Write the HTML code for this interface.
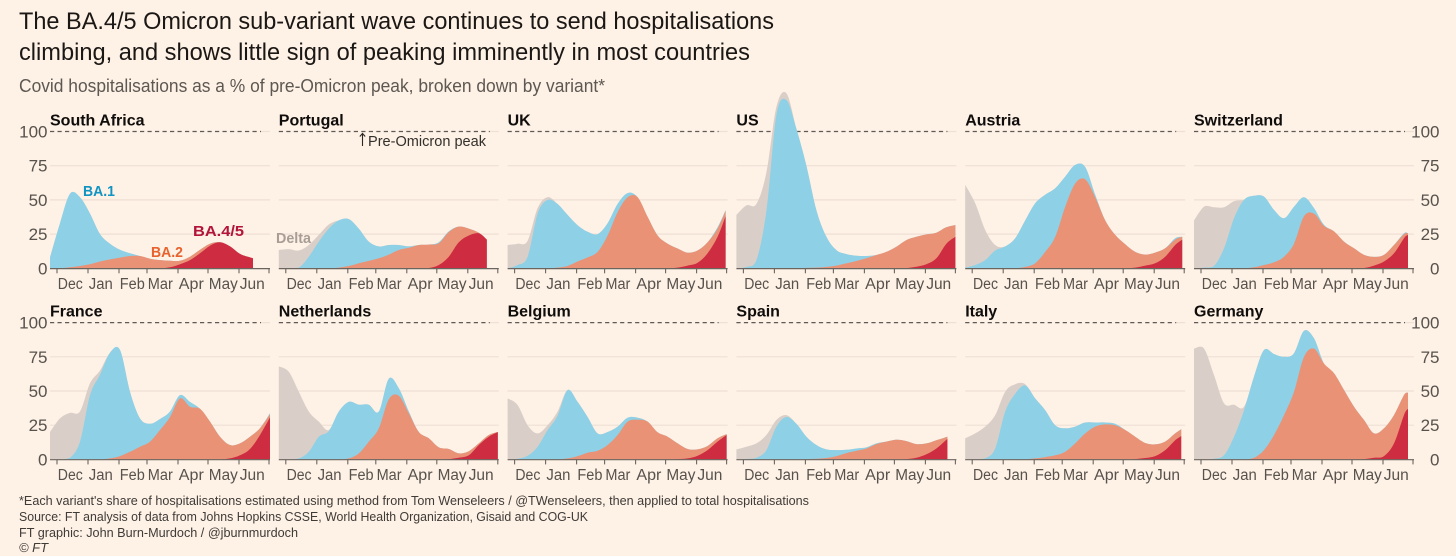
<!DOCTYPE html>
<html lang="en">
<head>
<meta charset="utf-8">
<title>BA.4/5 Omicron hospitalisations</title>
<style>
html,body{margin:0;padding:0;background:#fef1e6;}
svg{display:block;font-family:"Liberation Sans",sans-serif;}
</style>
</head>
<body>
<svg id="chart" xmlns="http://www.w3.org/2000/svg" width="1456" height="556" viewBox="0 0 1456 556">
  <rect x="0" y="0" width="1456" height="556" fill="#fef1e6"/>
  <text x="19" y="29" font-size="24" fill="#1a1714" textLength="755" lengthAdjust="spacingAndGlyphs">The BA.4/5 Omicron sub-variant wave continues to send hospitalisations</text>
  <text x="19" y="60" font-size="24" fill="#1a1714" textLength="731" lengthAdjust="spacingAndGlyphs">climbing, and shows little sign of peaking imminently in most countries</text>
  <text x="19" y="92" font-size="18" fill="#5d5852" textLength="586" lengthAdjust="spacingAndGlyphs">Covid hospitalisations as a % of pre-Omicron peak, broken down by variant*</text>
  <g id="panels"></g>
  <text x="19" y="505" font-size="13" fill="#3f3b37" textLength="790" lengthAdjust="spacingAndGlyphs">*Each variant's share of hospitalisations estimated using method from Tom Wenseleers / @TWenseleers, then applied to total hospitalisations</text>
  <text x="19" y="521" font-size="13" fill="#3f3b37" textLength="569" lengthAdjust="spacingAndGlyphs">Source: FT analysis of data from Johns Hopkins CSSE, World Health Organization, Gisaid and COG-UK</text>
  <text x="19" y="537" font-size="13" fill="#3f3b37" textLength="279" lengthAdjust="spacingAndGlyphs">FT graphic: John Burn-Murdoch / @jburnmurdoch</text>
  <text x="19" y="552" font-size="13" font-style="italic" fill="#3f3b37" textLength="29" lengthAdjust="spacingAndGlyphs">© FT</text>
</svg>
<script>
const yTicks = [0, 25, 50, 75, 100];
const monthLabels = ['Dec', 'Jan', 'Feb', 'Mar', 'Apr', 'May', 'Jun'];
const monthStartDays = [7, 38, 69, 97, 128, 158, 189, 219];

const southAfricaTotal = [8,33,54.5,52,40,25,18,13.5,11,9,7,6,5.5,5.5,8.5,13.5,18,19,16,10.5,8,7.3];
const southAfricaBa1 = [8,33,54.5,52,40,25,18,13.5,11,9,7,6,5.5,5.5,8.5,13.5,18,19,16,10.5,8,7.3];
const southAfricaBa2 = [0,0,0.7,1.7,3,5,6.5,7.8,9,9,7,6,5.5,5.5,8.5,13.5,18,19,16,10.5,8,7.3];
const southAfricaBa45 = [0,0,0,0,0,0,0,0,0,0,0,0,0.7,3,6,11,16.5,19,16,10.5,8,7.3];

const portugalTotal = [13.4,14,13,17,24.4,32,35,36,29,19.5,16,17,17,16,17,17.3,19,27,30.5,29,26,21];
const portugalBa1 = [0,0,0.5,8.5,19.5,29,35,36,29,19.5,16,17,17,16,17,17.3,19,27,30.5,29,26,21];
const portugalBa2 = [0,0,0,0,0,0,0.5,1.7,3.7,5.4,7.3,10,13.4,15,17,17.3,18.3,26.5,30.5,29,26,21];
const portugalBa45 = [0,0,0,0,0,0,0,0,0,0,0,0,0,0,0,0.2,2.4,8.5,19,24,25.6,21];

const ukTotal = [17,18,20,44,52,47,39,31.5,26.7,25,33,47,55,52,37.6,24,18,14.5,11.4,13,19,30,42.5];
const ukBa1 = [0,2.4,8.5,40,50,47,39,31.5,26.7,25,33,47,55,52,37.6,24,18,14.5,11.4,13,19,30,42.5];
const ukBa2 = [0,0,0,0,0,0.5,1.7,5,8,12,24,41,52,52,37.6,24,18,14.5,11.4,13,19,29,42];
const ukBa45 = [0,0,0,0,0,0,0,0,0,0,0,0,0,0,0,0,0,0.5,2,4,11,23,38];

const usTotal = [39,46,47,70,118,128,102,75,42.5,23,13.3,10.4,9.2,9,9.7,12,15.8,20.6,23,24.8,26,30,31.6];
const usBa1 = [0,1,6,42,112,123,102,75,42.5,23,13.3,10.4,9.2,9,9.7,12,15.8,20.6,23,24.8,26,30,31.6];
const usBa2 = [0,0,0,0,0,0,0,0.3,0.5,1,2,3.6,5.3,7.3,9.7,12,15.8,20.6,23,24.8,26,30,31.6];
const usBa45 = [0,0,0,0,0,0,0,0,0,0,0,0,0,0,0,0,0,0.2,1.2,3,7.3,18,23];

const austriaTotal = [61,47.5,28,17,16,22,35,47.5,53.7,58.5,67,75.6,74,53.7,35,24.4,17.6,12,10,11.5,14.6,22,23];
const austriaBa1 = [0.5,2.4,6,13,16,22,35,47.5,53.7,58.5,67,75.6,74,53.7,35,24.4,17.6,12,10,11.5,14.6,22,23];
const austriaBa2 = [0,0,0,0,0,0,1,3.7,12,23,45,62,65,52,35,24.4,17.6,12,10,11.5,14.6,21,23];
const austriaBa45 = [0,0,0,0,0,0,0,0,0,0,0,0,0,0,0,0,0,0.5,2,3.7,8.5,17,21];

const switzerlandTotal = [35,45,44.6,44.6,49,50,53,52.4,42.7,36.6,45,52,44,31.7,27,19.5,14.6,9.8,8.3,9.8,17,25.6,25.6];
const switzerlandBa1 = [0,0.5,1.7,14.6,36.6,50,53,52.4,42.7,36.6,45,52,44,31.7,27,19.5,14.6,9.8,8.3,9.8,17,25.6,25.6];
const switzerlandBa2 = [0,0,0,0,0,0,0.7,2.4,4.4,8.5,18,38,40,31,27,19.5,14.6,9.8,8.3,9.8,17,25,25.6];
const switzerlandBa45 = [0,0,0,0,0,0,0,0,0,0,0,0,0,0,0,0,0,0.2,2,5,11,22,24.4];

const franceTotal = [20,30,34,35,55.6,65,78,80,49.5,30,26,29.5,35,47,42,37,27.6,16.6,10.5,11.7,16.6,22.7,33.7];
const franceBa1 = [0,0,1.2,13,47,62,78,80,49.5,30,26,29.5,35,47,42,37,27.6,16.6,10.5,11.7,16.6,22.7,33.7];
const franceBa2 = [0,0,0,0,0,0,0.7,2.4,5.6,9.3,13,21.5,31,44.6,38.5,37,27.6,16.6,10.5,11.7,16.6,22.7,33];
const franceBa45 = [0,0,0,0,0,0,0,0,0,0,0,0,0,0,0,0,0,0,0.7,3,7.6,17.8,30.7];

const netherlandsTotal = [68,64,49.5,35,27.6,21.5,35,42,40,40,35,59,52,35,20,15.4,8.8,7.6,4.4,6,11.7,17.8,20];
const netherlandsBa1 = [0,0,0.7,5.6,16.6,20.7,35,42,40,40,35,59,52,35,20,15.4,8.8,7.6,4.4,6,11.7,17.8,20];
const netherlandsBa2 = [0,0,0,0,0,0,0,0.7,4.4,13,22.7,44,46.6,33.7,20,15.4,8.8,7.6,4.4,6,11.7,17.8,20];
const netherlandsBa45 = [0,0,0,0,0,0,0,0,0,0,0,0,0,0,0,0,0,0.2,1.2,3,10.5,16.6,20];

const belgiumTotal = [44.6,39.8,25,19,25,35,50.7,42,31,19,20,24,30.5,30.5,27.6,19.8,16.6,11.7,7.6,7.3,9.8,15.4,18.5];
const belgiumBa1 = [0,0.5,2.7,9.3,21.5,32,50.7,42,31,19,20,24,30.5,30.5,27.6,19.8,16.6,11.7,7.6,7.3,9.8,15.4,18.5];
const belgiumBa2 = [0,0,0,0,0,0,0.7,2.4,4.9,6.3,10.5,17.8,27.6,29,27.6,19.8,16.6,11.7,7.6,7.3,9.8,15.4,18.5];
const belgiumBa45 = [0,0,0,0,0,0,0,0,0,0,0,0,0,0,0,0,0,0.2,0.7,2.7,6.8,13,17.8];

const spainTotal = [7.3,9.3,11.7,17.8,28.8,32.4,26,16.6,10.5,7.3,6.8,7,8,8.8,11.7,13,14.4,13.4,11.2,11.7,14,16.6];
const spainBa1 = [0,0.3,1.2,6.8,24,31,26,16.6,10.5,7.3,6.8,7,8,8.8,11.7,13,14.4,13.4,11.2,11.7,14,16.6];
const spainBa2 = [0,0,0,0,0,0,0,0.2,0.5,1,2.4,4.6,6.3,8,11.2,13,14.4,13.4,11.2,11.7,14,16.6];
const spainBa45 = [0,0,0,0,0,0,0,0,0,0,0,0,0,0,0,0,0,0.2,1.2,3.7,8,15];

const italyTotal = [15.4,19,24,32.4,49.5,55,55,44.6,36,25,22.7,24,27,27,27,26,21.5,16.6,12,11,13,19,22];
const italyBa1 = [0,0,0.7,8,35,48,54,44.6,36,25,22.7,24,27,27,27,26,21.5,16.6,12,11,13,19,22];
const italyBa2 = [0,0,0,0,0,0,0.1,0.7,1.7,3,5.6,11.7,19,24,25.6,25,21.5,16.6,12,11,13,19,22];
const italyBa45 = [0,0,0,0,0,0,0,0,0,0,0,0,0,0,0,0,0,0.2,1,2.4,6.8,14,17];

const germanyTotal = [81,81,61.7,41,40,38.5,60.5,80,77,75,77.6,94,88.5,70,63,50.7,38.5,28.8,19,22.7,32.4,47,48.8];
const germanyBa1 = [0,0,0.5,3,16.6,36,60.5,80,77,75,77.6,94,88.5,70,63,50.7,38.5,28.8,19,22.7,32.4,47,48.8];
const germanyBa2 = [0,0,0,0,0,0,1.2,6.8,17.8,32.4,49.5,75,81,70,63,50.7,38.5,28.8,19,22.7,32.4,47,48.8];
const germanyBa45 = [0,0,0,0,0,0,0,0,0,0,0,0,0,0,0,0,0,0.2,1.2,2.4,11.7,32.4,37];

const countryNames = ['South Africa','Portugal','UK','US','Austria','Switzerland','France','Netherlands','Belgium','Spain','Italy','Germany'];
const lastDataDays = [203,208,218,219,217,214,220,219,219,211,216,214];
const totalSeries = [southAfricaTotal,portugalTotal,ukTotal,usTotal,austriaTotal,switzerlandTotal,franceTotal,netherlandsTotal,belgiumTotal,spainTotal,italyTotal,germanyTotal];
const ba1Series = [southAfricaBa1,portugalBa1,ukBa1,usBa1,austriaBa1,switzerlandBa1,franceBa1,netherlandsBa1,belgiumBa1,spainBa1,italyBa1,germanyBa1];
const ba2Series = [southAfricaBa2,portugalBa2,ukBa2,usBa2,austriaBa2,switzerlandBa2,franceBa2,netherlandsBa2,belgiumBa2,spainBa2,italyBa2,germanyBa2];
const ba45Series = [southAfricaBa45,portugalBa45,ukBa45,usBa45,austriaBa45,switzerlandBa45,franceBa45,netherlandsBa45,belgiumBa45,spainBa45,italyBa45,germanyBa45];

const NS = 'http://www.w3.org/2000/svg';
const root = document.getElementById('panels');
const PANEL_STEP = 228.8;
const ROW_BASE = [268.3, 459.4];
const PX_PER_UNIT = 1.368;
const PX_PER_DAY = 1.0;
const SAMPLE_DAYS = 10;

function xScale(col, day) { return 50 + col * PANEL_STEP + day * PX_PER_DAY; }
function yScale(row, value) { return ROW_BASE[row] - value * PX_PER_UNIT; }
function slug(s) { return s.toLowerCase().replace(/[^a-z0-9]+/g, '-'); }

function make(tag, parent, attrs, str) {
  const el = document.createElementNS(NS, tag);
  for (const k in attrs) el.setAttribute(k, attrs[k]);
  if (str !== undefined) el.textContent = str;
  parent.appendChild(el);
  return el;
}

function areaPath(values, col, row, lastDay) {
  const base = yScale(row, 0);
  const pts = values.map(function (v, i) {
    const day = i === values.length - 1 ? lastDay : i * SAMPLE_DAYS;
    return [xScale(col, day), yScale(row, v)];
  });
  let d = 'M' + pts[0][0].toFixed(1) + ' ' + base.toFixed(1) + 'L' + pts[0][0].toFixed(1) + ' ' + pts[0][1].toFixed(1);
  for (let i = 0; i < pts.length - 1; i++) {
    const p0 = pts[Math.max(i - 1, 0)], p1 = pts[i], p2 = pts[i + 1], p3 = pts[Math.min(i + 2, pts.length - 1)];
    const c1x = p1[0] + (p2[0] - p0[0]) / 6, c2x = p2[0] - (p3[0] - p1[0]) / 6;
    const c1y = Math.min(base, p1[1] + (p2[1] - p0[1]) / 6), c2y = Math.min(base, p2[1] - (p3[1] - p1[1]) / 6);
    d += 'C' + c1x.toFixed(1) + ' ' + c1y.toFixed(1) + ' ' + c2x.toFixed(1) + ' ' + c2y.toFixed(1) + ' ' + p2[0].toFixed(1) + ' ' + p2[1].toFixed(1);
  }
  d += 'L' + xScale(col, lastDay).toFixed(1) + ' ' + base.toFixed(1) + 'Z';
  return d;
}

countryNames.forEach(function (name, idx) {
  const col = idx % 6;
  const row = Math.floor(idx / 6);
  const key = slug(name);
  const g = make('g', root, {});
  
  

  yTicks.forEach(function (t) {
    if (t === 0 || t === 100) return;
    const gl = make('line', g, { x1: xScale(col, 0), x2: xScale(col, 220), y1: yScale(row, t), y2: yScale(row, t), stroke: '#eee0d4', 'stroke-width': 1.2 });
    
    
  });

  const pale = make('line', g, { x1: xScale(col, 210), x2: xScale(col, 220), y1: yScale(row, 100), y2: yScale(row, 100), stroke: '#eee0d4', 'stroke-width': 1.2 });
  
  

  const peak = make('line', g, { x1: xScale(col, 0), x2: xScale(col, 211), y1: yScale(row, 100), y2: yScale(row, 100), stroke: '#5f5a54', 'stroke-width': 1.2, 'stroke-dasharray': '4.2 3.3' });
  
  

  const layers = [
    [totalSeries[idx], '#d9cfc8', 'delta-area'],
    [ba1Series[idx], '#8ed0e6', 'ba1-area'],
    [ba2Series[idx], '#ea9276', 'ba2-area'],
    [ba45Series[idx], '#cd2c41', 'ba45-area']
  ];
  layers.forEach(function (layer) {
    const p = make('path', g, { d: areaPath(layer[0], col, row, lastDataDays[idx]), fill: layer[1] });
    
    
  });

  const base = make('line', g, { x1: xScale(col, 0), x2: xScale(col, 220), y1: yScale(row, 0) + 0.3, y2: yScale(row, 0) + 0.3, stroke: '#6b655f', 'stroke-width': 1.2 });
  
  

  monthStartDays.forEach(function (day) {
    const tk = make('line', g, { x1: xScale(col, day), x2: xScale(col, day), y1: yScale(row, 0), y2: yScale(row, 0) + 5, stroke: '#6b655f', 'stroke-width': 1.1 });
    
    
  });

  monthLabels.forEach(function (m, i) {
    const tl = make('text', g, { x: xScale(col, monthStartDays[i]) + 0.8, y: yScale(row, 0) + 20.5, 'font-size': 15.5, fill: '#57524c', textLength: m === 'May' ? 29 : (m === 'Jan' ? 24 : 25), lengthAdjust: 'spacingAndGlyphs' }, m);
    
    
  });

  const title = make('text', g, { x: xScale(col, 0), y: yScale(row, 100) - 6, 'font-size': 16, 'font-weight': 'bold', fill: '#0f0d0b' }, name);
  
  
});

[0, 1].forEach(function (row) {
  yTicks.forEach(function (t) {
    const left = make('text', root, { x: 47.5, y: yScale(row, t) + 6, 'font-size': 17, fill: '#57524c', 'text-anchor': 'end' }, String(t));
    
    
    const right = make('text', root, { x: 1439.5, y: yScale(row, t) + 6, 'font-size': 17, fill: '#57524c', 'text-anchor': 'end' }, String(t));
    
    
  });
});

const labelBa1 = make('text', root, { x: 83, y: 196, 'font-size': 15, 'font-weight': 'bold', fill: '#1094c2', textLength: 32, lengthAdjust: 'spacingAndGlyphs' }, 'BA.1');


const labelBa2 = make('text', root, { x: 151, y: 257, 'font-size': 15, 'font-weight': 'bold', fill: '#e8622d', textLength: 32, lengthAdjust: 'spacingAndGlyphs' }, 'BA.2');


const labelBa45 = make('text', root, { x: 193, y: 236, 'font-size': 15, 'font-weight': 'bold', fill: '#b2143a', textLength: 51, lengthAdjust: 'spacingAndGlyphs' }, 'BA.4/5');


const labelDelta = make('text', root, { x: 276, y: 243, 'font-size': 15, 'font-weight': 'bold', fill: '#a89e95', textLength: 35, lengthAdjust: 'spacingAndGlyphs' }, 'Delta');


const peakArrow = make('path', root, { d: 'M362.5 146V134M359.8 136.5L362.5 133.5L365.2 136.5', fill: 'none', stroke: '#2b2723', 'stroke-width': 1.1 });


const peakLabel = make('text', root, { x: 368, y: 146, 'font-size': 14.5, fill: '#33302c', textLength: 118, lengthAdjust: 'spacingAndGlyphs' }, 'Pre-Omicron peak');


</script>
</body>
</html>
